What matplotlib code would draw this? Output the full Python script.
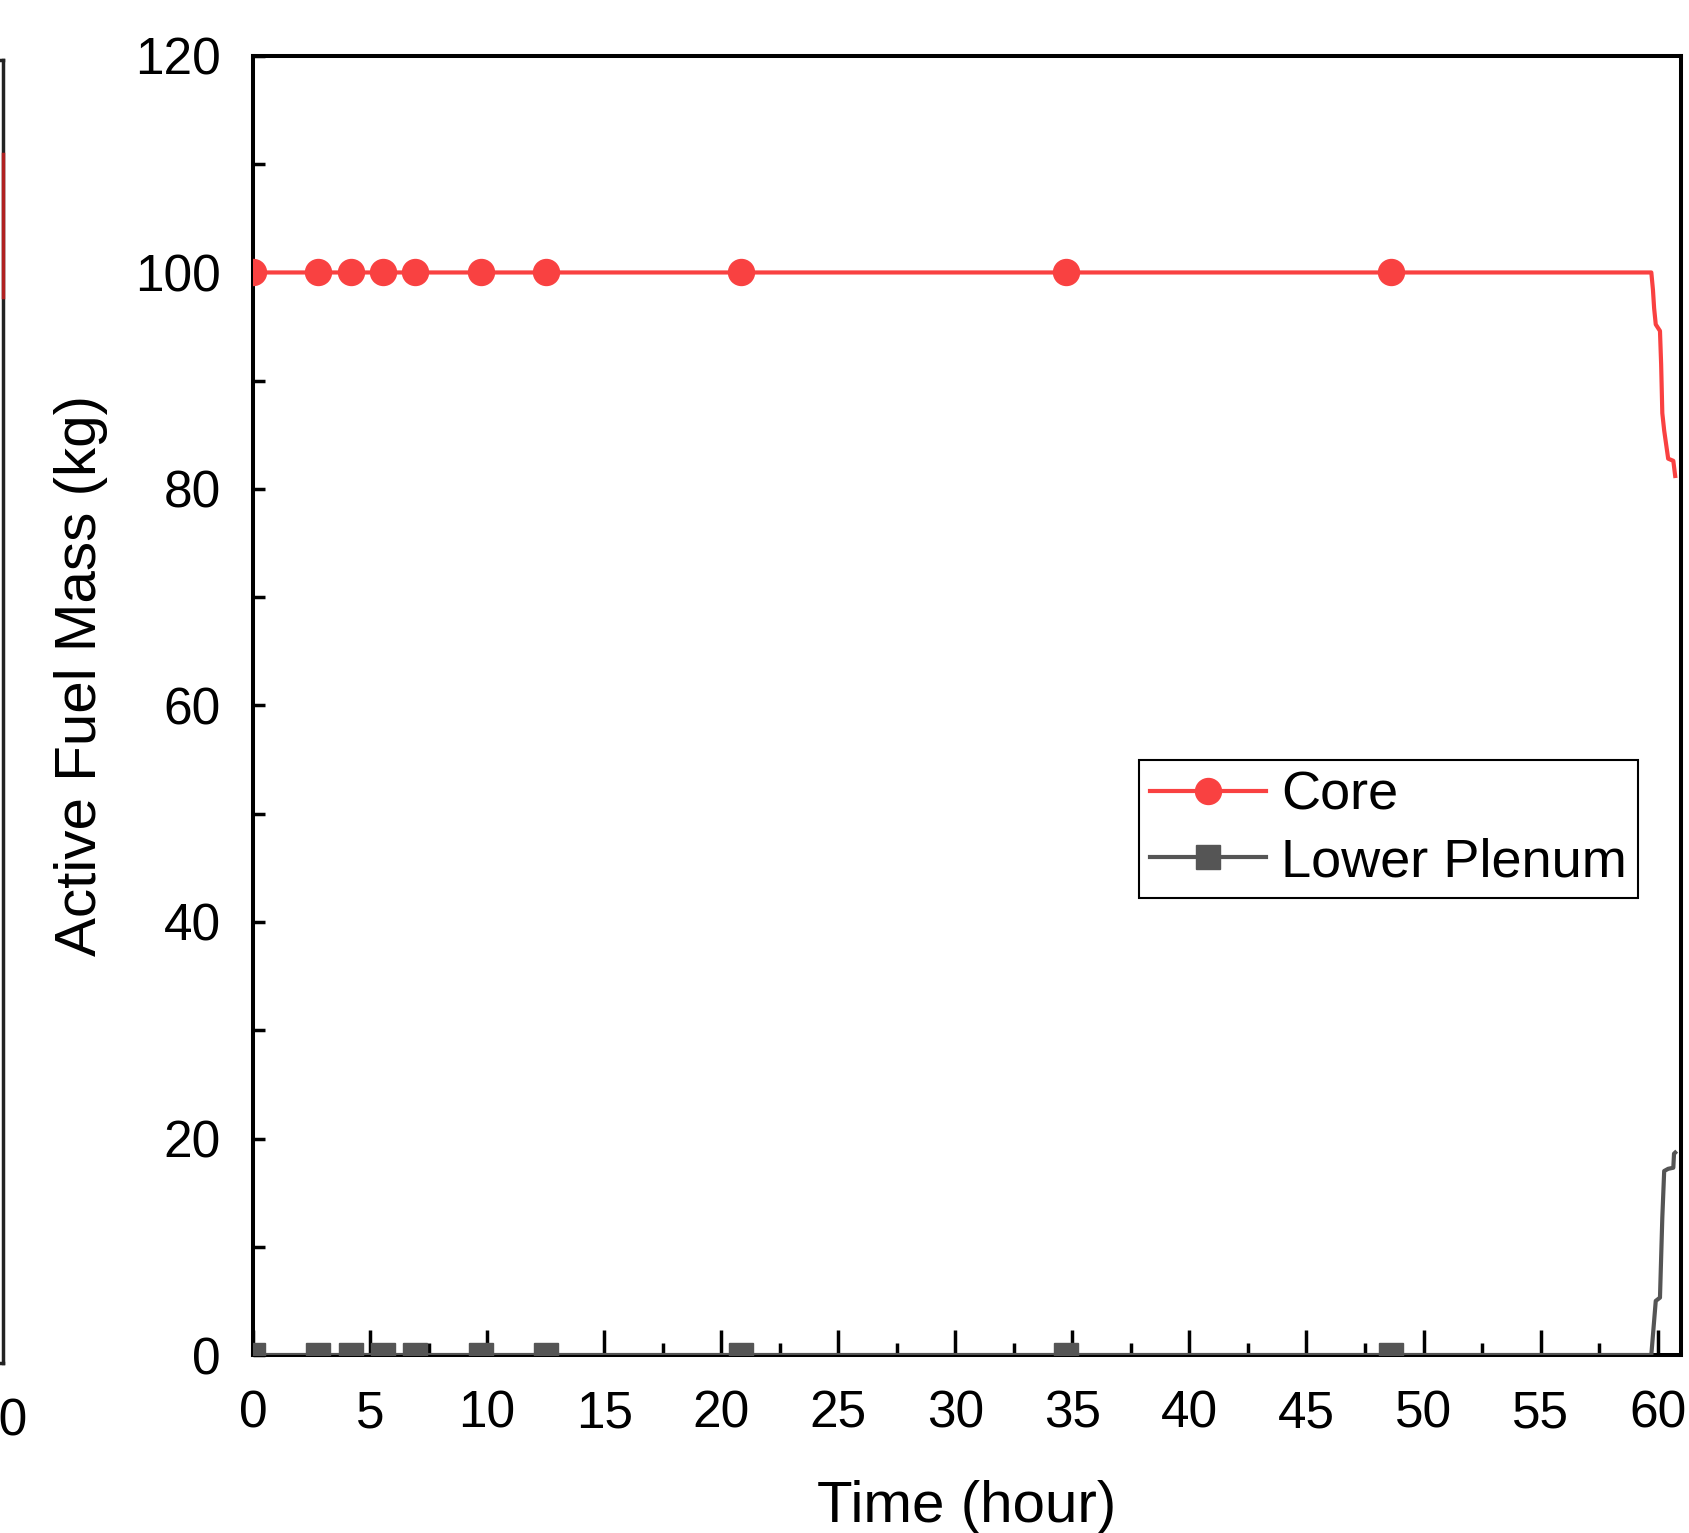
"""
Active fuel mass in core / lower plenum vs time
"""
import matplotlib
matplotlib.use('Agg')
import matplotlib.pyplot as plt
from matplotlib.ticker import MultipleLocator

plt.rcParams['font.family'] = ['Liberation Sans', 'DejaVu Sans']

# marker times (hour) - flat part
marker_t = [0.0, 2.78, 4.17, 5.56, 6.94, 9.72, 12.5, 20.83, 34.72, 48.61]

# core mass (kg)
core_t = marker_t + [59.73, 59.80, 59.85, 59.92, 60.10, 60.15, 60.20, 60.28, 60.45, 60.67, 60.75]
core_m = [100] * 10 + [100, 98.4, 96.7, 95.2, 94.6, 91.5, 87.0, 85.4, 82.8, 82.6, 81.2]

# lower plenum mass (kg)
lp_t = marker_t + [59.73, 59.92, 60.10, 60.20, 60.28, 60.45, 60.67, 60.70, 60.75]
lp_m = [0] * 10 + [0, 5.0, 5.3, 12.7, 17.0, 17.2, 17.3, 18.6, 18.7]

# cut-off neighbour panel on the left edge
nb_t = [60.15, 60.15]
nb_m = [111.3, 98.2]

red = '#F94141'
gray = '#555555'

fig = plt.figure(figsize=(16.9, 15.33), dpi=100)

# neighbour panel (only its right edge shows)
nb = fig.add_axes([-0.8435, 0.1109, 0.845, 0.850])
nb.plot(nb_t, nb_m, color='#B02020', lw=2.5, zorder=3, clip_on=False)
nb.set_xlim(0, 60.15)
nb.set_ylim(0, 120)
nb.set_xticks([60])
nb.set_yticks([])
nb.tick_params(axis='x', length=0, labelsize=37, pad=25)
for s in nb.spines.values():
    s.set_linewidth(2.5)
    s.set_color('#222222')

ax = fig.add_axes([0.1497, 0.1161, 0.845, 0.8474])

ax.plot(core_t, core_m, color=red, lw=3, marker='o', ms=18.7,
        markevery=list(range(10)), label='Core', zorder=3)
ax.plot(lp_t, lp_m, color=gray, lw=3, marker='s', ms=17.3,
        markevery=list(range(10)), label='Lower Plenum', zorder=3)

ax.set_xlim(0, 61.0)
ax.set_ylim(0, 120)

ax.xaxis.set_major_locator(MultipleLocator(5))
ax.xaxis.set_minor_locator(MultipleLocator(2.5))
ax.yaxis.set_major_locator(MultipleLocator(20))
ax.yaxis.set_minor_locator(MultipleLocator(10))

ax.tick_params(axis='both', which='both', direction='in', width=2.5,
               top=False, right=False, labelsize=37)
ax.tick_params(axis='x', which='major', length=18, pad=25)
ax.tick_params(axis='x', which='minor', length=8.6)
ax.tick_params(axis='y', which='both', length=8.6, pad=23)

for s in ax.spines.values():
    s.set_linewidth(2.9)

ax.set_xlabel('Time (hour)', fontsize=42)
ax.set_ylabel('Active Fuel Mass (kg)', fontsize=42)
ax.xaxis.set_label_coords(0.5, -0.096)
ax.yaxis.set_label_coords(-0.1015, 0.523)

leg = ax.legend(loc='upper right', bbox_to_anchor=(0.970, 0.458),
                borderaxespad=0, fontsize=39, fancybox=False, framealpha=1,
                edgecolor='black', handlelength=2.15, handletextpad=0.28,
                borderpad=0.2, labelspacing=0.3)
leg.get_frame().set_linewidth(1.5)

fig.savefig('out.png', dpi=100)
